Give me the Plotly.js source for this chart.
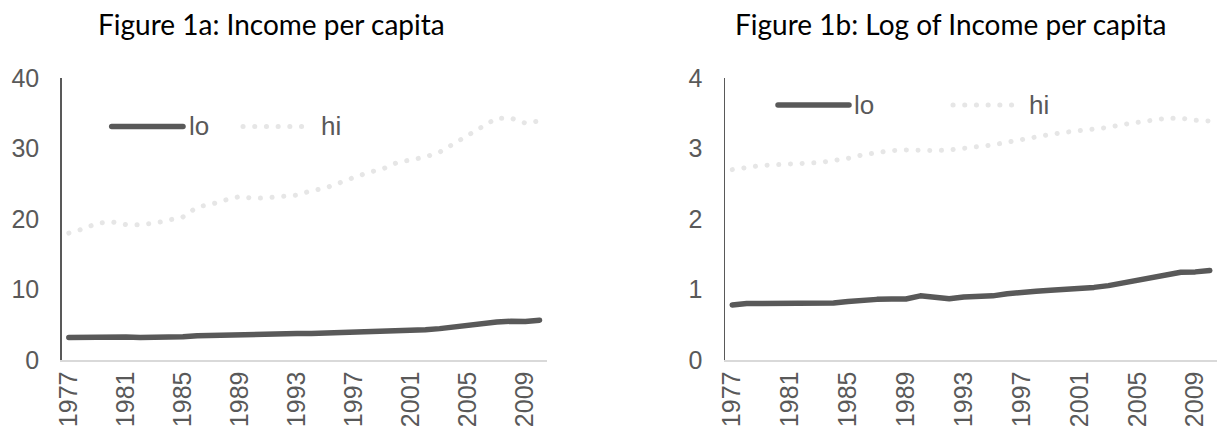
<!DOCTYPE html>
<html><head><meta charset="utf-8">
<script src="https://cdn.plot.ly/plotly-3.0.1.min.js"></script>
<style>
html,body{margin:0;padding:0;background:#fff;}
#chart{width:1221px;height:434px;}
.js-line, .shapelayer path {stroke-linecap:round; stroke-linejoin:round;}
</style></head><body><div id="chart"></div>
<script>
// ---- data ----
const years = [1977,1978,1979,1980,1981,1982,1983,1984,1985,1986,1987,1988,1989,1990,1991,1992,1993,1994,1995,1996,1997,1998,1999,2000,2001,2002,2003,2004,2005,2006,2007,2008,2009,2010];
const tickYears = [1977,1981,1985,1989,1993,1997,2001,2005,2009];
const loIncome = [3.2,3.25,3.25,3.25,3.25,3.2,3.2,3.25,3.3,3.45,3.5,3.55,3.6,3.75,3.8,3.75,3.75,3.75,3.8,3.9,4.0,4.05,4.1,4.15,4.2,4.3,4.45,4.7,4.9,5.15,5.4,5.5,5.45,5.65];
const hiIncome = [18.0,18.6,19.4,19.6,19.2,19.2,19.4,19.8,20.3,21.7,22.1,22.7,23.2,22.9,23.0,23.2,23.4,24.0,24.4,25.2,25.9,26.6,27.1,28.0,28.4,28.8,29.5,30.7,31.7,32.9,34.3,34.3,33.6,33.9];
const loLog = [0.78,0.80,0.80,0.80,0.81,0.80,0.795,0.81,0.83,0.85,0.86,0.866,0.866,0.91,0.89,0.87,0.895,0.895,0.91,0.94,0.965,0.975,0.99,1.00,1.013,1.03,1.055,1.09,1.13,1.17,1.21,1.245,1.25,1.27];
const hiLog = [2.70,2.73,2.76,2.77,2.78,2.79,2.80,2.83,2.86,2.91,2.94,2.97,2.98,2.97,2.97,2.98,3.00,3.03,3.05,3.09,3.13,3.17,3.20,3.23,3.25,3.28,3.30,3.34,3.37,3.40,3.43,3.43,3.40,3.39];
const seriesNames = ['lo','hi'];
const titles = ['Figure 1a: Income per capita','Figure 1b: Log of Income per capita'];
const yTicksA = [0,10,20,30,40];
const yTicksB = [0,1,2,3,4];

// ---- styling ----
const W = 1221, H = 434;
const px = x => x / W;
const py = y => 1 - y / H;
const loColor = '#595959', hiColor = '#e6e6e6';
const loLine = {color: loColor, width: 5.5};
const hiLine = {color: hiColor, width: 5, dash: '0.1px,11.6px'};
const tickFont = {family: 'Liberation Sans, Arial, sans-serif', size: 25, color: '#595959'};
const yDom = [py(360), py(78)];
const domA = [px(61.7), px(546.7)];
const domB = [px(725), px(1217)];
const xr = [years[0] - 0.5, years[years.length - 1] + 0.5];

const traces = [
  {x: years, y: loIncome, name: seriesNames[0], mode: 'lines', line: loLine, xaxis: 'x', yaxis: 'y'},
  {x: years, y: hiIncome, name: seriesNames[1], mode: 'lines', line: hiLine, xaxis: 'x', yaxis: 'y'},
  {x: years, y: loLog, name: seriesNames[0], mode: 'lines', line: loLine, xaxis: 'x2', yaxis: 'y2'},
  {x: years, y: hiLog, name: seriesNames[1], mode: 'lines', line: hiLine, xaxis: 'x2', yaxis: 'y2'}
];

function labelAxis(dom, anchor) {
  return {domain: dom, anchor: anchor, range: xr, tickvals: tickYears, ticktext: tickYears.map(String),
    ticks: '', tickangle: -90, showline: true, linecolor: '#d9d9d9', linewidth: 1.5,
    showgrid: false, zeroline: false, tickfont: tickFont, ticklabelstandoff: 0, fixedrange: true};
}
function tickAxis(dom, over, anchor) {
  return {domain: dom, overlaying: over, anchor: anchor, range: xr,
    tickvals: tickYears.map(v => v - 0.5), ticks: 'outside', ticklen: 8, tickwidth: 1.5, tickcolor: '#d9d9d9',
    showticklabels: false, showline: false, showgrid: false, zeroline: false, fixedrange: true};
}
function yAxis(anchor, range, tv) {
  return {domain: yDom, anchor: anchor, range: range, tickvals: tv, ticks: '', showline: true,
    linecolor: '#595959', linewidth: 1.5, showgrid: false, zeroline: false, tickfont: tickFont,
    ticklabelstandoff: 16, fixedrange: true};
}

function legendItems(xLo0, xLo1, xLoT, xHi0, xHi1, xHiT, yL) {
  const shapes = [
    {type: 'line', xref: 'paper', yref: 'paper', x0: px(xLo0), x1: px(xLo1), y0: py(yL), y1: py(yL), line: {color: loColor, width: 5.5}},
    {type: 'line', xref: 'paper', yref: 'paper', x0: px(xHi0), x1: px(xHi1), y0: py(yL), y1: py(yL), line: {color: hiColor, width: 5, dash: '0.1px,11.6px'}}
  ];
  const ann = [
    {xref: 'paper', yref: 'paper', x: px(xLoT), y: py(yL), text: seriesNames[0], showarrow: false, xanchor: 'left', yanchor: 'middle', font: {family: tickFont.family, size: 26, color: '#595959'}},
    {xref: 'paper', yref: 'paper', x: px(xHiT), y: py(yL), text: seriesNames[1], showarrow: false, xanchor: 'left', yanchor: 'middle', font: {family: tickFont.family, size: 26, color: '#595959'}}
  ];
  return {shapes, ann};
}
const legA = legendItems(111.7, 183, 187, 243, 307, 319, 126.5);
const legB = legendItems(778, 849, 852, 953, 1017, 1027, 105);

const titleFont = {family: 'Lato, "Open Sans", sans-serif', size: 28, color: '#000'};
const annotations = [
  {xref: 'paper', yref: 'paper', x: px(271), y: py(24), text: titles[0], showarrow: false, xanchor: 'center', yanchor: 'middle', font: titleFont},
  {xref: 'paper', yref: 'paper', x: px(950), y: py(24), text: titles[1], showarrow: false, xanchor: 'center', yanchor: 'middle', font: titleFont}
].concat(legA.ann, legB.ann);

const layout = {
  width: W, height: H, margin: {l: 0, r: 0, t: 0, b: 0}, showlegend: false,
  paper_bgcolor: '#fff', plot_bgcolor: 'rgba(0,0,0,0)',
  xaxis: labelAxis(domA, 'y'),
  xaxis2: labelAxis(domB, 'y2'),
  xaxis3: tickAxis(domA, 'x', 'y'),
  xaxis4: tickAxis(domB, 'x2', 'y2'),
  yaxis: yAxis('x', [0, 40], yTicksA),
  yaxis2: yAxis('x2', [0, 4], yTicksB),
  shapes: legA.shapes.concat(legB.shapes),
  annotations: annotations
};
Plotly.newPlot('chart', traces, layout, {displayModeBar: false, staticPlot: true});
</script></body></html>
